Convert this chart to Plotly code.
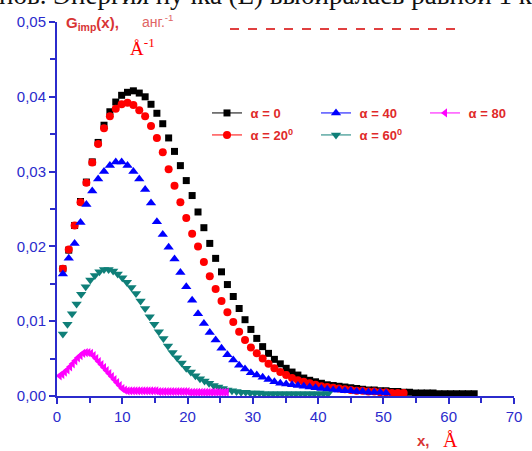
import plotly.graph_objects as go

# ---------------- data ----------------
x_a0 = [0.9, 1.8, 2.7, 3.6, 4.5, 5.4, 6.3, 7.2, 8.1, 9.0, 9.9, 10.8, 11.7, 12.6, 13.5, 14.4,
        15.3, 16.2, 17.1, 18.0, 18.9, 19.8, 20.7, 21.6, 22.5, 23.4, 24.3, 25.2, 26.1, 27.0,
        27.9, 28.8, 29.7, 30.6, 31.5, 32.4, 33.3, 34.2, 35.1, 36.0, 36.9, 37.8, 38.7, 39.6,
        40.5, 41.4, 42.3, 43.2, 44.1, 45.0, 45.9, 46.8, 47.7, 48.6, 49.5, 50.4, 51.3, 52.2,
        53.1, 54.0, 54.9, 55.8, 56.7, 57.6, 58.5, 59.4, 60.3, 61.2, 62.1, 63.0, 63.9]
y_a0 = [0.0170, 0.0195, 0.0228, 0.0260, 0.0286, 0.0313, 0.0339, 0.0362, 0.0380, 0.0393,
        0.0402, 0.0406, 0.0408, 0.0405, 0.0400, 0.0390, 0.0378, 0.0364, 0.0345, 0.0327,
        0.0308, 0.0288, 0.0268, 0.0246, 0.0225, 0.0204, 0.0184, 0.0166, 0.0149, 0.0133,
        0.0117, 0.0102, 0.0089, 0.0077, 0.0066, 0.0057, 0.0049, 0.0043, 0.0037, 0.0032,
        0.0028, 0.0024, 0.0021, 0.0019, 0.0017, 0.0015, 0.0014, 0.0013, 0.0012, 0.0011,
        0.0010, 0.0009, 0.0008, 0.0008, 0.0007, 0.0007, 0.0006, 0.0006, 0.0005, 0.0005,
        0.0004, 0.0004, 0.0004, 0.0004, 0.0003, 0.0003, 0.0003, 0.0003, 0.0003, 0.0003, 0.0003]

x_a20 = [0.9, 1.8, 2.7, 3.6, 4.5, 5.4, 6.3, 7.2, 8.1, 9.0, 9.9, 10.8, 11.7, 12.6, 13.5, 14.4,
         15.3, 16.2, 17.1, 18.0, 18.9, 19.8, 20.7, 21.6, 22.5, 23.4, 24.3, 25.2, 26.1, 27.0,
         27.9, 28.8, 29.7, 30.6, 31.5, 32.4, 33.3, 34.2, 35.1, 36.0, 36.9, 37.8, 38.7, 39.6,
         40.5, 41.4, 42.3, 43.2, 44.1, 45.0, 45.9, 46.8, 47.7, 48.6, 49.5, 50.4, 51.3, 52.2, 53.1]
y_a20 = [0.0170, 0.0196, 0.0228, 0.0259, 0.0285, 0.0312, 0.0337, 0.0358, 0.0374, 0.0384,
         0.0390, 0.0392, 0.0389, 0.0382, 0.0374, 0.0361, 0.0345, 0.0326, 0.0303, 0.0281,
         0.0259, 0.0238, 0.0217, 0.0200, 0.0179, 0.0160, 0.0143, 0.0127, 0.0112, 0.0099,
         0.0086, 0.0075, 0.0065, 0.0057, 0.0050, 0.0043, 0.0037, 0.0032, 0.0028, 0.0024,
         0.0021, 0.0019, 0.0017, 0.0015, 0.0013, 0.0012, 0.0011, 0.0010, 0.0009, 0.0008,
         0.0007, 0.0007, 0.0006, 0.0006, 0.0005, 0.0005, 0.0004, 0.0004, 0.0004]

x_a40 = [0.9, 1.8, 2.7, 3.6, 4.5, 5.4, 6.3, 7.2, 8.1, 9.0, 9.9, 10.8, 11.7, 12.6, 13.5, 14.4,
         15.3, 16.2, 17.1, 18.0, 18.9, 19.8, 20.7, 21.6, 22.5, 23.4, 24.3, 25.2, 26.1, 27.0,
         27.9, 28.8, 29.7, 30.6, 31.5, 32.4, 33.3, 34.2, 35.1, 36.0, 36.9, 37.8, 38.7, 39.6,
         40.5, 41.4, 42.3, 43.2, 44.1, 45.0, 45.9, 46.8, 47.7, 48.6, 49.5, 50.4]
y_a40 = [0.0163, 0.0184, 0.0204, 0.0232, 0.0256, 0.0274, 0.0290, 0.0300, 0.0308, 0.0313,
         0.0313, 0.0308, 0.0300, 0.0290, 0.0276, 0.0258, 0.0233, 0.0216, 0.0199, 0.0183,
         0.0165, 0.0146, 0.0128, 0.0110, 0.0097, 0.0085, 0.0075, 0.0064, 0.0055, 0.0048,
         0.0041, 0.0036, 0.0031, 0.0028, 0.0025, 0.0022, 0.0019, 0.0017, 0.0016, 0.0015,
         0.0014, 0.0013, 0.0012, 0.0011, 0.0010, 0.0009, 0.0008, 0.0008, 0.0007, 0.0007,
         0.0006, 0.0006, 0.0005, 0.0005, 0.0005, 0.0004]

x_a60 = [0.9, 1.6, 2.3, 3.0, 3.7, 4.4, 5.1, 5.8, 6.5, 7.2, 7.9, 8.6, 9.3, 10.0, 10.7, 11.4,
         12.1, 12.8, 13.5, 14.2, 14.9, 15.6, 16.3, 17.0, 17.7, 18.4, 19.1, 19.8, 20.5, 21.2,
         21.9, 22.6, 23.3, 24.0, 24.7, 25.4, 26.1, 26.8, 27.5, 28.2, 28.9, 29.6, 30.3, 31.0,
         31.7, 32.4, 33.1, 33.8, 34.5, 35.2, 35.9, 36.6, 37.3, 38.0, 38.7, 39.4, 40.1, 40.8, 41.5]
y_a60 = [0.0083, 0.0096, 0.0110, 0.0123, 0.0136, 0.0146, 0.0155, 0.0161, 0.0166, 0.0169,
         0.0169, 0.0167, 0.0163, 0.0158, 0.0152, 0.0145, 0.0137, 0.0127, 0.0117, 0.0106,
         0.0096, 0.0086, 0.0077, 0.0067, 0.0058, 0.0051, 0.0044, 0.0037, 0.0032, 0.0027,
         0.0023, 0.0020, 0.0017, 0.0014, 0.0012, 0.0010, 0.0008, 0.0007, 0.0006, 0.0005,
         0.0005, 0.0004, 0.0004, 0.0004, 0.0003, 0.0003, 0.0003, 0.0003, 0.0003, 0.0003,
         0.0003, 0.0003, 0.0003, 0.0003, 0.0003, 0.0003, 0.0003, 0.0003, 0.0003]

x_a80 = [0.4, 0.8, 1.2, 1.6, 2.0, 2.4, 2.8, 3.2, 3.6, 4.0, 4.4, 4.8, 5.2, 5.6, 6.0, 6.4,
         6.8, 7.2, 7.6, 8.0, 8.4, 8.8, 9.2, 9.6, 10.0, 10.4, 10.8, 11.2, 11.6, 12.0, 12.4,
         12.8, 13.2, 13.6, 14.0, 14.4, 14.8, 15.2, 15.6, 16.0, 16.4, 16.8, 17.2, 17.6, 18.0,
         18.4, 18.8, 19.2, 19.6, 20.0, 20.4, 20.8, 21.2, 21.6, 22.0, 22.4, 22.8, 23.2, 23.6,
         24.0, 24.4, 24.8, 25.2, 25.6, 26.0]
y_a80 = [0.0027, 0.0029, 0.0032, 0.0035, 0.0039, 0.0043, 0.0047, 0.0051, 0.0054, 0.0057,
         0.0058, 0.0058, 0.0057, 0.0054, 0.0050, 0.0046, 0.0042, 0.0038, 0.0034, 0.0030,
         0.0026, 0.0022, 0.0018, 0.0014, 0.0010, 0.0008, 0.0007, 0.0007, 0.0007, 0.0007,
         0.0007, 0.0007, 0.0007, 0.0007, 0.0007, 0.0007, 0.0007, 0.0007, 0.0006, 0.0006,
         0.0006, 0.0006, 0.0006, 0.0006, 0.0006, 0.0006, 0.0006, 0.0006, 0.0006, 0.0006,
         0.0005, 0.0005, 0.0005, 0.0005, 0.0005, 0.0005, 0.0005, 0.0005, 0.0005, 0.0005,
         0.0005, 0.0005, 0.0005, 0.0005, 0.0005]

names = ["α = 0", "α = 20<sup>0</sup>", "α = 40", "α = 60<sup>0</sup>", "α = 80"]
x_ticks = [0, 10, 20, 30, 40, 50, 60, 70]
y_ticks = [0.00, 0.01, 0.02, 0.03, 0.04, 0.05]

# ---------------- layout helpers ----------------
W, H = 532, 451
L, R, T, B = 57, 18, 22, 55
PW, PH = W - L - R, H - T - B


def px(xp):
    return (xp - L) / PW


def py(yp):
    return (H - B - yp) / PH


AXIS = "#2b2bcc"
RED = "#e02a2a"
SANS = "Liberation Sans, Arial, sans-serif"
SERIF = "Liberation Serif, Times New Roman, serif"
NB = "\u00a0"

series = [
    (x_a0, y_a0, names[0], "#000000", "square", 7, "legend"),
    (x_a20, y_a20, names[1], "#ff0000", "circle", 8, "legend2"),
    (x_a40, y_a40, names[2], "#0000ff", "triangle-up", 9, "legend"),
    (x_a60, y_a60, names[3], "#0f7f78", "triangle-down", 9, "legend2"),
    (x_a80, y_a80, names[4], "#ff00ff", "triangle-left", 8, "legend"),
]

fig = go.Figure()
for xs, ys, nm, col, sym, sz, lg in series:
    fig.add_trace(go.Scatter(
        x=xs, y=ys, mode="markers", showlegend=False, cliponaxis=False,
        marker=dict(symbol=sym, size=sz, color=col, line=dict(width=0)),
    ))
# legend-only entries (short line with marker, as in the original legend)
for xs, ys, nm, col, sym, sz, lg in series:
    fig.add_trace(go.Scatter(
        x=[None], y=[None], mode="lines+markers", name=NB + nm, legend=lg,
        marker=dict(symbol=sym, size=sz, color=col, line=dict(width=0)),
        line=dict(color=col, width=1),
    ))

legend_common = dict(orientation="h", xanchor="left", yanchor="middle",
                     entrywidth=64, bgcolor="rgba(0,0,0,0)",
                     font=dict(family=SANS, size=13, color=RED, weight="bold"),
                     itemclick=False)

fig.update_layout(
    width=W, height=H,
    margin=dict(l=L, r=R, t=T, b=B, autoexpand=False),
    paper_bgcolor="white", plot_bgcolor="white",
    separators=", ",
    font=dict(family=SANS),
    legend=dict(x=px(207), y=py(113), **legend_common),
    legend2=dict(x=px(207), y=py(135), **legend_common),
    xaxis=dict(range=[0, 70], tickvals=x_ticks, showgrid=False, zeroline=False,
               showline=True, linecolor=AXIS, linewidth=2, automargin=False,
               ticks="outside", ticklen=6, tickwidth=2, tickcolor=AXIS,
               tickfont=dict(family=SANS, size=15, color=AXIS),
               minor=dict(dtick=5, ticks="outside", ticklen=5, tickwidth=2, tickcolor=AXIS)),
    yaxis=dict(range=[0, 0.05], tickvals=y_ticks, tickformat=".2f", showgrid=False,
               zeroline=False, showline=True, linecolor=AXIS, linewidth=2, automargin=False,
               ticks="outside", ticklen=6, tickwidth=2, tickcolor=AXIS,
               tickfont=dict(family=SANS, size=15, color=AXIS),
               minor=dict(dtick=0.005, ticks="outside", ticklen=5, tickwidth=2, tickcolor=AXIS)),
)

ann = []
# clipped line of document text above the chart
ann.append(dict(text="нов. Энергия пучка (E) выбиралась равной 1 кэВ",
                x=px(-3), y=py(12), xref="paper", yref="paper",
                xanchor="left", yanchor="bottom", showarrow=False,
                font=dict(family=SERIF, size=27, color="#111111")))
# y-axis title
ann.append(dict(text="<b>G<sub>imp</sub>(x),</b>", x=px(64), y=py(23), xref="paper", yref="paper",
                xanchor="left", yanchor="middle", showarrow=False,
                font=dict(family=SANS, size=15, color="#d83434")))
ann.append(dict(text="анг.<sup>-1</sup>", x=px(140), y=py(21), xref="paper", yref="paper",
                xanchor="left", yanchor="middle", showarrow=False,
                font=dict(family=SANS, size=14, color="#e06464")))
ann.append(dict(text="Å<sup>-1</sup>", x=px(128), y=py(47), xref="paper", yref="paper",
                xanchor="left", yanchor="middle", showarrow=False,
                font=dict(family=SERIF, size=19, color="#ff0000")))
# x-axis title
ann.append(dict(text="<b>x,</b>", x=px(415), y=py(440), xref="paper", yref="paper",
                xanchor="left", yanchor="middle", showarrow=False,
                font=dict(family=SANS, size=15, color="#d83434")))
ann.append(dict(text="Å", x=px(441), y=py(440), xref="paper", yref="paper",
                xanchor="left", yanchor="middle", showarrow=False,
                font=dict(family=SERIF, size=20, color="#ff0000")))
fig.update_layout(annotations=ann)

# remnant of a clipped red line of text in the original
fig.add_shape(type="line", xref="paper", yref="paper", x0=px(230), x1=px(460),
              y0=py(29), y1=py(29), line=dict(color="#e04040", width=2, dash="dash"))

fig.write_html("out.html", config={"displayModeBar": False},
               post_script="document.body.style.margin='0px';")
